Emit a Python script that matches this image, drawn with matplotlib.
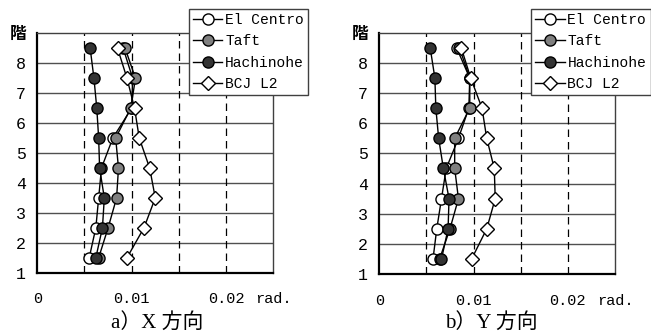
import matplotlib
matplotlib.use('Agg')
import matplotlib.pyplot as plt

floors = [1.5, 2.5, 3.5, 4.5, 5.5, 6.5, 7.5, 8.5]

# X direction
elcentro_x = [0.0055, 0.0062, 0.0065, 0.0068, 0.0080, 0.0100, 0.0101, 0.0091]
taft_x = [0.0065, 0.0075, 0.0084, 0.0086, 0.0083, 0.0099, 0.0104, 0.0093]
hachinohe_x = [0.0062, 0.0069, 0.0071, 0.0066, 0.0065, 0.0063, 0.0060, 0.0056]
bcj_x = [0.0095, 0.0113, 0.0125, 0.0119, 0.0108, 0.0103, 0.0095, 0.0085]

# Y direction
elcentro_y = [0.0057, 0.0061, 0.0066, 0.0071, 0.0084, 0.0095, 0.0096, 0.0082]
taft_y = [0.0064, 0.0075, 0.0084, 0.0080, 0.0080, 0.0096, 0.0096, 0.0085]
hachinohe_y = [0.0066, 0.0073, 0.0074, 0.0068, 0.0063, 0.0060, 0.0059, 0.0054]
bcj_y = [0.0098, 0.0114, 0.0123, 0.0122, 0.0114, 0.0109, 0.0097, 0.0087]

yticks = [1, 2, 3, 4, 5, 6, 7, 8, 9]
ytick_labels = ['1', '2', '3', '4', '5', '6', '7', '8', '階']
xticks = [0, 0.01, 0.02, 0.025]
xtick_labels = ['0', '0.01', '0.02', 'rad.']

tick_font = ['Liberation Mono', 'Noto Sans CJK JP']
cap_font = ['Liberation Serif', 'Noto Sans CJK JP']


def drawPanel(ax, ec, tf, hc, bc):
    for v in [2, 3, 4, 5, 6, 7, 8]:
        ax.axhline(v, color='#505050', lw=1.0, zorder=1)
    for v in [0.005, 0.01, 0.015, 0.02]:
        ax.axvline(v, color='black', lw=0.9, ls=(0, (6, 4)), zorder=1)

    ax.plot(ec, floors, '-o', color='black', mfc='white', mec='black',
            ms=8, lw=1, label='El Centro', zorder=3)
    ax.plot(tf, floors, '-o', color='black', mfc='#808080', mec='black',
            ms=8, lw=1, label='Taft', zorder=4)
    ax.plot(hc, floors, '-o', color='black', mfc='#333333', mec='black',
            ms=8, lw=1, label='Hachinohe', zorder=5)
    ax.plot(bc, floors, '-D', color='black', mfc='white', mec='black',
            ms=7, lw=1, label='BCJ L2', zorder=6)

    ax.set_xlim(0, 0.025)
    ax.set_ylim(1, 9)
    ax.set_yticks(yticks)
    ax.set_yticklabels(ytick_labels, family=tick_font, fontsize=12)
    ax.get_yticklabels()[-1].set_fontweight('bold')
    ax.set_xticks(xticks)
    ax.set_xticklabels(xtick_labels, family=tick_font, fontsize=11)
    ax.tick_params(axis='y', length=0, pad=8)
    ax.tick_params(axis='x', length=0, pad=14)

    for s in ['left', 'bottom']:
        ax.spines[s].set_linewidth(1.6)
        ax.spines[s].set_color('black')
    for s in ['top', 'right']:
        ax.spines[s].set_linewidth(1.0)
        ax.spines[s].set_color('#404040')


def createChart(filename):
    fig = plt.figure(figsize=(6.51, 3.33), dpi=100)
    ax1 = fig.add_axes([0.0573, 0.181, 0.3625, 0.719])
    ax2 = fig.add_axes([0.5826, 0.177, 0.362, 0.7246])

    drawPanel(ax1, elcentro_x, taft_x, hachinohe_x, bcj_x)
    drawPanel(ax2, elcentro_y, taft_y, hachinohe_y, bcj_y)

    for ax, x0 in [(ax1, 0.290), (ax2, 0.8157)]:
        h, l = ax.get_legend_handles_labels()
        leg = fig.legend(h, l, loc='upper left', bbox_to_anchor=(x0, 0.974),
                         bbox_transform=fig.transFigure, borderaxespad=0,
                         prop={'family': 'Liberation Mono', 'size': 10.5},
                         handlelength=2.0, handletextpad=0.2, labelspacing=0.5,
                         borderpad=0.3, fancybox=False, framealpha=1,
                         edgecolor='#404040')
        leg.get_frame().set_linewidth(1.0)

    fig.text(0.241, 0.03, 'a）X 方向', ha='center', va='center',
             family=cap_font, fontsize=15)
    fig.text(0.755, 0.03, 'b）Y 方向', ha='center', va='center',
             family=cap_font, fontsize=15)

    plt.savefig(filename, dpi=100)
    plt.clf()


def main():
    createChart('out.png')


if __name__ == '__main__':
    main()
